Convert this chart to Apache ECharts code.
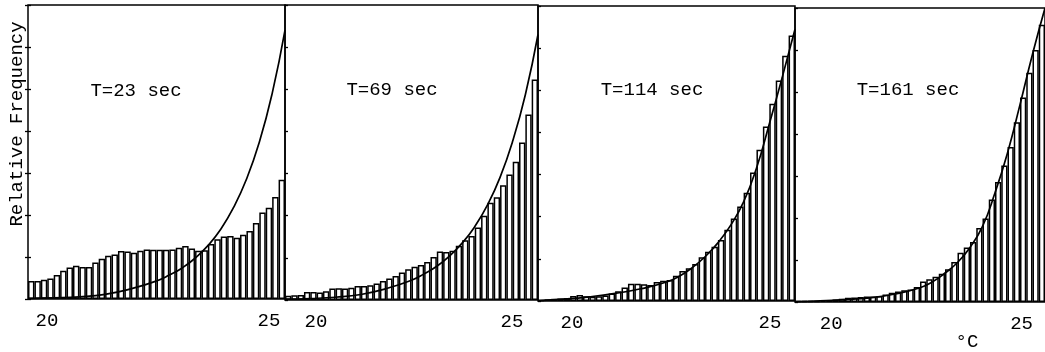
<!DOCTYPE html>
<html><head><meta charset="utf-8">
<script src="https://cdn.jsdelivr.net/npm/echarts/dist/echarts.min.js"></script>
<style>html,body{margin:0;padding:0;background:#fff}#c{width:1045px;height:352px}</style>
</head><body><div id="c"></div><script>
// ---- data ----
const panelTitles = ['T=23 sec', 'T=69 sec', 'T=114 sec', 'T=161 sec'];
const yAxisName = 'Relative Frequency';
const xUnit = '°C';
const tempTicks = [20, 25];
const bins = Array.from({length: 40}, (_, i) => String(i));

const bars23 = [0.43,0.43,0.46,0.49,0.57,0.67,0.75,0.79,0.76,0.76,0.87,0.96,1.03,1.06,1.14,1.13,1.10,1.15,1.18,1.17,1.17,1.17,1.18,1.22,1.26,1.20,1.15,1.16,1.31,1.42,1.49,1.50,1.46,1.53,1.62,1.81,2.06,2.17,2.43,2.84];
const bars69 = [0.10,0.11,0.12,0.19,0.19,0.18,0.21,0.27,0.28,0.27,0.29,0.33,0.33,0.35,0.39,0.45,0.51,0.57,0.65,0.73,0.79,0.83,0.90,1.02,1.15,1.14,1.17,1.29,1.42,1.52,1.72,2.00,2.31,2.44,2.72,2.98,3.28,3.74,4.40,5.23];
const bars114 = [0.02,0.04,0.05,0.06,0.07,0.12,0.14,0.11,0.10,0.11,0.13,0.18,0.23,0.32,0.41,0.41,0.40,0.38,0.45,0.48,0.50,0.60,0.71,0.78,0.88,1.04,1.17,1.29,1.45,1.69,1.96,2.24,2.57,3.05,3.59,4.14,4.68,5.23,5.82,6.30];
const bars161 = [0.02,0.02,0.02,0.02,0.03,0.04,0.06,0.08,0.10,0.11,0.12,0.13,0.13,0.14,0.18,0.22,0.25,0.28,0.30,0.36,0.49,0.54,0.60,0.67,0.78,0.95,1.17,1.30,1.43,1.76,1.99,2.44,2.86,3.25,3.69,4.28,4.87,5.46,6.00,6.60];

// theoretical curve, [bin position, relative frequency]
const curve23 = [[0,0.01],[4,0.025],[8,0.05],[12,0.11],[16,0.24],[20,0.43],[22,0.57],[24,0.74],[26,0.97],[28,1.27],[30,1.66],[32,2.18],[34,2.85],[36,3.73],[38,4.89],[40,6.4]];
const curve69 = [[0,0.02],[4,0.035],[8,0.065],[12,0.13],[16,0.27],[20,0.47],[22,0.62],[24,0.8],[26,1.04],[28,1.35],[30,1.74],[32,2.25],[34,2.91],[36,3.77],[38,4.87],[40,6.3]];
const curve114 = [[0,0.01],[4,0.045],[8,0.1],[12,0.18],[16,0.29],[20,0.45],[22,0.59],[24,0.79],[26,1.05],[28,1.38],[30,1.8],[32,2.35],[34,3.15],[36,4.2],[38,5.3],[40,6.45]];
const curve161 = [[0,0.01],[4,0.025],[8,0.055],[12,0.1],[16,0.19],[20,0.34],[22,0.48],[24,0.69],[26,0.94],[28,1.3],[30,1.8],[32,2.6],[34,3.55],[36,4.7],[38,5.9],[40,7.0]];

// ---- layout ----
const INK = '#000';
const FONT = '"Liberation Mono", "DejaVu Sans Mono", monospace';
const layout = [
  {grid:{left:28, right:760, top:5, bottom:53}, tMin:19.572, tMax:25.36, title:[136,91]},
  {grid:{left:285, right:507, top:5, bottom:52}, tMin:19.209, tMax:25.663, title:[392,90]},
  {grid:{left:538, right:250, top:6, bottom:51}, tMin:19.141, tMax:25.631, title:[652,90]},
  {grid:{left:795, right:-6, top:8, bottom:50}, tMin:19.051, tMax:25.615, title:[908,90]}
];
const barSets = [bars23, bars69, bars114, bars161];
const curveSets = [curve23, curve69, curve114, curve161];

const grid = [], xAxis = [], yAxis = [], series = [], graphic = [];
layout.forEach((L, i) => {
  grid.push(Object.assign({show:true, borderColor:INK, borderWidth:1.5, backgroundColor:'transparent'}, L.grid));
  const xc = xAxis.length;
  xAxis.push({gridIndex:i, type:'category', data:bins, show:false, boundaryGap:true});
  xAxis.push({gridIndex:i, type:'value', min:0, max:40, show:false});
  xAxis.push({gridIndex:i, type:'value', min:L.tMin, max:L.tMax, position:'bottom',
    axisLine:{show:false}, axisTick:{show:false}, splitLine:{show:false},
    axisLabel:{margin:12, fontFamily:FONT, fontSize:19, color:INK,
      showMinLabel:false, showMaxLabel:false,
      formatter: v => tempTicks.includes(Math.round(v*1000)/1000) ? String(v) : ''}});
  const yr = yAxis.length;
  yAxis.push({gridIndex:i, type:'value', min:0, max:7, interval:1, position:'right',
    axisLine:{show:false}, axisTick:{show:true, inside:false, length:3, lineStyle:{color:INK, width:1.3}},
    axisLabel:{show:false}, splitLine:{show:false}});
  if (i === 0) {
    yAxis.push({gridIndex:i, type:'value', min:0, max:7, interval:1, position:'left',
      axisLine:{show:false}, axisTick:{show:true, inside:false, length:3, lineStyle:{color:INK, width:1.3}},
      axisLabel:{show:false}, splitLine:{show:false}});
  }
  series.push({type:'bar', xAxisIndex:xc, yAxisIndex:yr, data:barSets[i], barCategoryGap:'0%',
    itemStyle:{color:'#fff', borderColor:INK, borderWidth:1.5}, silent:true, animation:false, z:2});
  series.push({type:'line', xAxisIndex:xc+1, yAxisIndex:yr, data:curveSets[i], smooth:0.5,
    showSymbol:false, lineStyle:{color:INK, width:1.7}, clip:true,
    silent:true, animation:false, z:3});
  graphic.push({type:'text', x:L.title[0], y:L.title[1],
    style:{text:panelTitles[i], font:'19px ' + FONT, fill:INK, align:'center', verticalAlign:'middle'}});
});
graphic.push({type:'text', x:16.5, y:124, rotation:Math.PI/2,
  style:{text:yAxisName, font:'19px ' + FONT, fill:INK, align:'center', verticalAlign:'middle'}});
graphic.push({type:'text', x:967, y:342,
  style:{text:xUnit, font:'19px ' + FONT, fill:INK, align:'center', verticalAlign:'middle'}});

const chart = echarts.init(document.getElementById('c'), null, {renderer:'canvas'});
chart.setOption({backgroundColor:'#fff', animation:false, grid, xAxis, yAxis, series, graphic});
</script></body></html>
